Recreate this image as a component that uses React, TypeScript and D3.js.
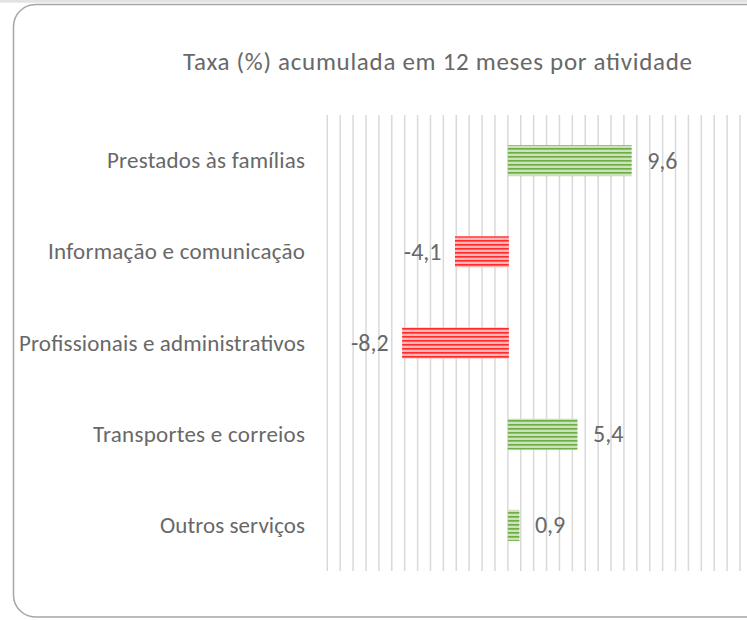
import React from "react";
import * as d3 from "d3";

const categories = [
  "Prestados às famílias",
  "Informação e comunicação",
  "Profissionais e administrativos",
  "Transportes e correios",
  "Outros serviços",
];
const values = [9.6, -4.1, -8.2, 5.4, 0.9];
const valueLabels = ["9,6", "-4,1", "-8,2", "5,4", "0,9"];
const gridTicks = d3.range(-14, 19, 1);
const title = "Taxa (%) acumulada em 12 meses por atividade";

const W = 747;
const H = 620;

export default function App() {
  const x = d3.scaleLinear().domain([-14, 18]).range([327.3, 740]);
  const y = d3
    .scaleBand<string>()
    .domain(categories)
    .range([115, 571])
    .paddingInner(0.66)
    .paddingOuter(0.33);
  const font = "Carlito, Calibri, 'Liberation Sans', 'Open Sans', sans-serif";
  const textColor = "#686868";
  const labelWidths = [198, 257, 286, 212, 145];

  return (
    <svg
      width={W}
      height={H}
      style={{ position: "absolute", left: 0, top: 0, background: "#fff" }}
      fontFamily={font}
    >
      <defs>
        <pattern id="greenStripe" patternUnits="userSpaceOnUse" width={8} height={4}>
          <rect width={8} height={4} fill="#E4F0DC" />
          <rect y={0} width={8} height={1.8} fill="#6FAD46" />
          <rect y={1.8} width={8} height={0.6} fill="#A8D08D" />
          <rect y={3.4} width={8} height={0.6} fill="#B9D9A4" />
        </pattern>
        <pattern id="redStripe" patternUnits="userSpaceOnUse" width={8} height={4}>
          <rect width={8} height={4} fill="#FFD6D6" />
          <rect y={0} width={8} height={1.8} fill="#FF2B2B" />
          <rect y={1.8} width={8} height={0.6} fill="#FF8A8A" />
          <rect y={3.4} width={8} height={0.6} fill="#FF9C9C" />
        </pattern>
      </defs>
      <rect x={0} y={0} width={W} height={2.7} fill="#E3E3E3" />
      <rect
        x={13.5}
        y={4.5}
        width={760}
        height={612.5}
        rx={22}
        ry={22}
        fill="#fff"
        stroke="#A6A6A6"
        strokeWidth={1.5}
      />
      <text
        x={437.5}
        y={70}
        textAnchor="middle"
        fontSize={25}
        fill={textColor}
        textLength={509}
        lengthAdjust="spacing"
      >
        {title}
      </text>
      <g>
        {gridTicks.map((t) => (
          <line
            key={t}
            x1={x(t)}
            x2={x(t)}
            y1={115}
            y2={571}
            stroke="#D9D9D9"
            strokeWidth={1.5}
          />
        ))}
      </g>
      <g>
        {categories.map((c, i) => {
          const v = values[i];
          const x0 = x(Math.min(0, v));
          const x1 = x(Math.max(0, v));
          const yy = y(c)!;
          return (
            <rect
              key={c}
              x={x0}
              y={yy}
              width={x1 - x0 + (v < 0 ? 1 : 0)}
              height={y.bandwidth()}
              fill={v >= 0 ? "url(#greenStripe)" : "url(#redStripe)"}
            />
          );
        })}
      </g>
      <g>
        {categories.map((c, i) => {
          const cy = y(c)! + y.bandwidth() / 2;
          return (
            <text
              key={c}
              x={305}
              y={cy}
              dy="0.33em"
              textAnchor="end"
              fontSize={23}
              fill={textColor}
              textLength={labelWidths[i]}
              lengthAdjust="spacing"
            >
              {c}
            </text>
          );
        })}
      </g>
      <g>
        {categories.map((c, i) => {
          const v = values[i];
          const cy = y(c)! + y.bandwidth() / 2;
          const pos = v >= 0;
          return (
            <text
              key={c}
              x={pos ? x(v) + 15.5 : x(v) - 13.5}
              y={cy}
              dy="0.33em"
              textAnchor={pos ? "start" : "end"}
              fontSize={24}
              fill={textColor}
            >
              {valueLabels[i]}
            </text>
          );
        })}
      </g>
    </svg>
  );
}
